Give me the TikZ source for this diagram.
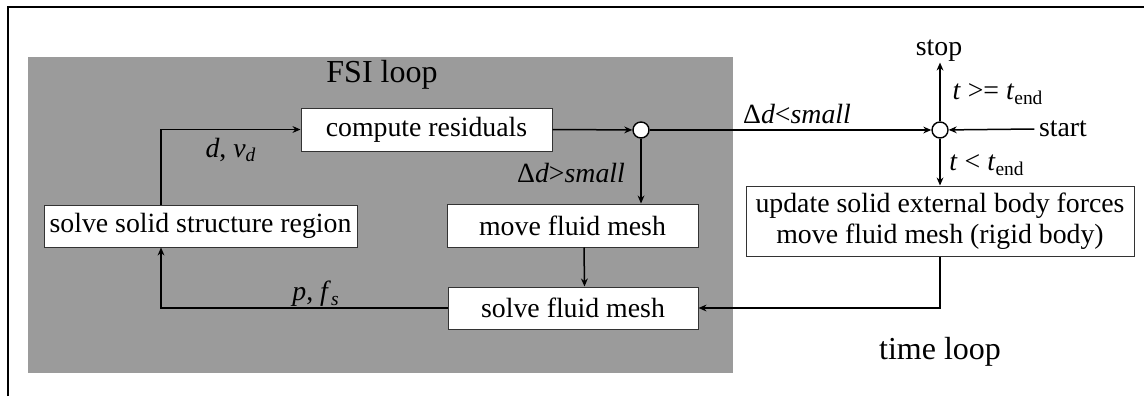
\documentclass[tikz,border=0pt]{standalone}
\usepackage{fontspec}
\setmainfont{Liberation Serif}
\usetikzlibrary{arrows.meta}
\definecolor{loopgray}{RGB}{155,155,155}
\tikzstyle{proc}=[draw=black!80, fill=white, line width=0.5pt, minimum height=21.5pt, inner sep=0pt, font=\fontsize{13.9}{15.5}\selectfont]
\tikzstyle{junction}=[circle, draw, fill=white, line width=0.7pt, minimum size=8pt, inner sep=0pt]
\tikzstyle{lbl}=[inner sep=0pt, font=\fontsize{13.9}{15.5}\selectfont]
\tikzstyle{title}=[inner sep=0pt, font=\fontsize{16}{18}\selectfont]

\begin{document}
\begin{tikzpicture}[x=0.5pt, y=-0.5pt, line width=0.75pt, >={Stealth[length=4pt,width=3.4pt]}]
                    \useasboundingbox (0,0) rectangle (1144,396);
                    \draw (8,396) -- (8,7) -- (1144,7);
                    \fill[loopgray] (28,57) rectangle (733,373);
                    \node[title] (fsi)  at (382,75)  {FSI loop};
                    \node[title] (time) at (940,352) {time loop};
                    \node[proc, minimum width=125.5pt] (resid) at (426.5,129.5) {compute residuals};
                    \node[proc, minimum width=156.5pt, minimum height=21pt] (solid) at (200.5,226) {solve solid structure region};
                    \node[proc, minimum width=125.5pt] (move)  at (572.5,225.5) {move fluid mesh};
                    \node[proc, minimum width=125pt, minimum height=21pt] (fluid) at (573,308) {solve fluid mesh};
                    \node[proc, minimum width=194pt, minimum height=35pt, align=center] (update) at (940,221)
                        {update solid external body forces\\ move fluid mesh (rigid body)};
                    \node[junction] (c1) at (641,130) {};
                    \node[junction] (c2) at (940,130) {};
                    \node[lbl] (dlt)   at (797,114)  {Δ\textit{d}<\textit{small}};
                    \node[lbl] (dgt)   at (571,173)  {Δ\textit{d}>\textit{small}};
                    \node[lbl] (dv)    at (231,150)  {\textit{d}, \textit{v}\textsubscript{\textit{d}}};
                    \node[lbl] (pf)    at (316,294)  {\textit{p}, \textit{f}\textsubscript{\textit{s}}};
                    \node[lbl] (stop)  at (939,51)   {stop};
                    \node[lbl] (tge)   at (998,94)   {\textit{t} >= \textit{t}\textsubscript{end}};
                    \node[lbl] (tlt)   at (987,165)  {\textit{t} < \textit{t}\textsubscript{end}};
                    \node[lbl, inner sep=2pt] (start) at (1063,129) {start};
                    \draw[->] (solid.north) ++(-39.5,0) |- (resid.west);
                    \draw[->] (resid.east) -- (c1);
                    \draw[->] (c1) -- (c2);
                    \draw[->] (c1) -- (c1 |- move.north);
                    \draw[->] ([xshift=5.75pt]move.south) -- ([xshift=5.75pt]fluid.north);
                    \draw[->] (fluid.west) -| ([xshift=-19.75pt]solid.south);
                    \draw[->] (update.south) |- (fluid.east);
                    \draw[->] (c2) -- (update.north);
                    \draw[->] (c2) -- (c2 |- stop.south);
                    \draw[->] (start.west) -- (c2);
                \end{tikzpicture}
\end{document}
